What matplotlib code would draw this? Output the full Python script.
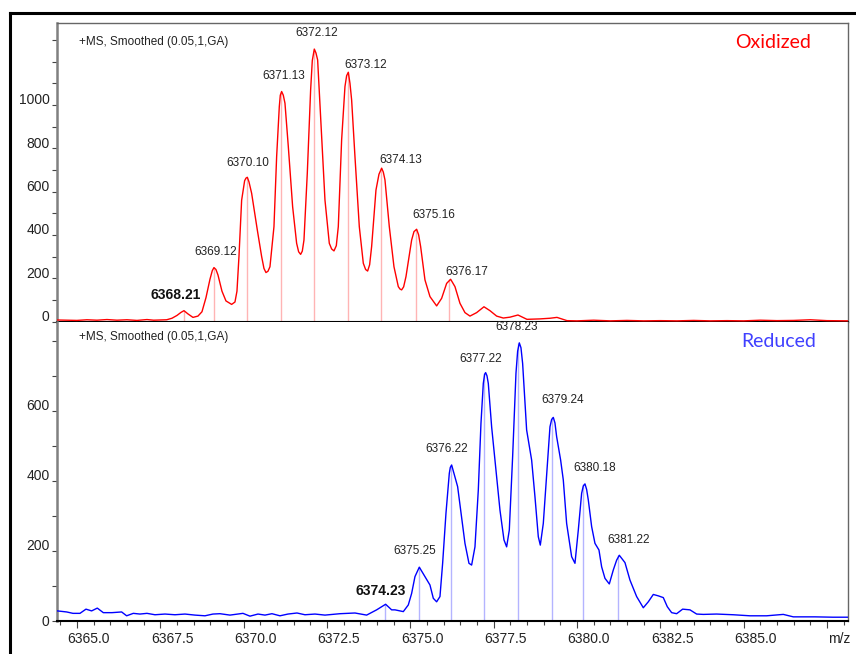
"""Mass spectra of oxidized vs reduced protein, stacked panels."""

import matplotlib.pyplot as plt
import matplotlib.transforms as mtransforms
from matplotlib.lines import Line2D
from matplotlib.ticker import FixedLocator

plt.rcParams['font.family'] = ['Liberation Sans', 'DejaVu Sans']

# ---- data ------------------------------------------------------------------
ox_mz = [6364.41, 6364.7, 6365.0, 6365.3, 6365.6, 6365.9, 6366.2, 6366.5,
         6366.8, 6367.1, 6367.3, 6367.5, 6367.69, 6367.85, 6368.00, 6368.12,
         6368.21, 6368.33, 6368.48, 6368.63, 6368.75, 6368.87, 6368.99,
         6369.06, 6369.11, 6369.17, 6369.23, 6369.35, 6369.47, 6369.64,
         6369.74, 6369.80, 6369.86, 6369.94, 6370.03, 6370.07, 6370.11,
         6370.16, 6370.24, 6370.41, 6370.54, 6370.61, 6370.67, 6370.73,
         6370.79, 6370.91, 6370.99, 6371.07, 6371.10, 6371.14, 6371.19,
         6371.24, 6371.34, 6371.47, 6371.59, 6371.65, 6371.71, 6371.76,
         6371.81, 6371.91, 6372.01, 6372.06, 6372.12, 6372.17, 6372.22,
         6372.32, 6372.44, 6372.57, 6372.64, 6372.71, 6372.78, 6372.84,
         6372.94, 6373.04, 6373.09, 6373.14, 6373.19, 6373.24, 6373.34,
         6373.47, 6373.59, 6373.66, 6373.72, 6373.78, 6373.84, 6373.97,
         6374.06, 6374.14, 6374.19, 6374.24, 6374.37, 6374.51, 6374.64,
         6374.69, 6374.74, 6374.80, 6374.87, 6375.04, 6375.11, 6375.19,
         6375.25, 6375.31, 6375.44, 6375.59, 6375.79, 6375.94, 6376.09,
         6376.21, 6376.34, 6376.49, 6376.64, 6376.79, 6376.99, 6377.21,
         6377.39, 6377.59, 6377.79, 6377.99, 6378.23, 6378.50, 6378.89,
         6379.19, 6379.40, 6379.70, 6380.0, 6380.5, 6381.0, 6381.5, 6382.0,
         6382.5, 6383.0, 6383.5, 6384.0, 6384.5, 6385.0, 6385.5, 6386.0,
         6386.5, 6387.0, 6387.5, 6388.14]
ox_int = [7, 6, 5, 8, 6, 9, 6, 8,
          5, 9, 6, 7, 8, 15, 28, 42,
          50, 35, 19, 25, 45, 110, 195,
          235, 249, 240, 215, 140, 95, 79,
          90, 140, 300, 560, 650, 662, 666,
          645, 592, 423, 300, 245, 226, 232,
          253, 438, 761, 992, 1045, 1062, 1045,
          1008, 808, 530, 361, 322, 310, 325,
          376, 685, 1070, 1205, 1258, 1240, 1208,
          916, 561, 361, 335, 326, 350, 438,
          839, 1085, 1135, 1151, 1100, 1023, 761,
          438, 269, 240, 233, 262, 346, 607,
          680, 708, 690, 654, 438, 253, 161,
          150, 146, 160, 207, 376, 415, 426,
          400, 346, 192, 115, 72, 107, 176,
          195, 161, 84, 41, 25, 41, 68,
          50, 25, 16, 20, 30, 10, 12,
          15, 19, 4, 3, 6, 3, 5, 3,
          4, 3, 5, 3, 4, 3, 6, 4,
          5, 8, 4, 3]

red_mz = [6364.41, 6364.69, 6364.88, 6365.09, 6365.27, 6365.44, 6365.61,
          6365.79, 6366.05, 6366.34, 6366.49, 6366.69, 6366.89, 6367.10,
          6367.34, 6367.64, 6367.94, 6368.24, 6368.54, 6368.84, 6369.08,
          6369.29, 6369.59, 6369.98, 6370.19, 6370.43, 6370.64, 6370.85,
          6371.09, 6371.33, 6371.60, 6371.84, 6372.14, 6372.44, 6372.89,
          6373.34, 6373.69, 6373.99, 6374.26, 6374.44, 6374.54, 6374.79,
          6374.94, 6375.04, 6375.14, 6375.27, 6375.44, 6375.59, 6375.69,
          6375.79, 6375.89, 6375.97, 6376.07, 6376.17, 6376.20, 6376.24,
          6376.34, 6376.42, 6376.51, 6376.64, 6376.76, 6376.84, 6376.94,
          6377.04, 6377.12, 6377.19, 6377.23, 6377.26, 6377.30, 6377.34,
          6377.44, 6377.57, 6377.69, 6377.81, 6377.89, 6377.97, 6378.07,
          6378.17, 6378.22, 6378.27, 6378.32, 6378.37, 6378.49, 6378.64,
          6378.74, 6378.84, 6378.90, 6378.99, 6379.10, 6379.19, 6379.24,
          6379.29, 6379.34, 6379.39, 6379.51, 6379.59, 6379.69, 6379.84,
          6379.94, 6380.04, 6380.14, 6380.19, 6380.24, 6380.29, 6380.34,
          6380.44, 6380.54, 6380.66, 6380.74, 6380.84, 6380.97, 6381.09,
          6381.19, 6381.27, 6381.44, 6381.59, 6381.79, 6381.99, 6382.14,
          6382.29, 6382.44, 6382.59, 6382.71, 6382.84, 6382.99, 6383.17,
          6383.39, 6383.59, 6383.79, 6384.19, 6384.69, 6385.19, 6385.69,
          6386.19, 6386.49, 6387.14, 6387.68, 6388.14]
red_int = [28, 25, 21, 21, 33, 28, 36,
           23, 23, 25, 14, 21, 19, 21,
           17, 19, 17, 19, 16, 14, 19,
           20, 16, 21, 13, 19, 16, 20,
           14, 19, 22, 17, 19, 16, 20,
           22, 16, 31, 47, 31, 31, 26,
           45, 78, 126, 153, 126, 102, 64,
           54, 69, 164, 307, 421, 438, 445,
           411, 383, 316, 221, 164, 159, 211,
           373, 564, 678, 704, 709, 700, 678,
           554, 431, 316, 231, 211, 259, 469,
           707, 770, 794, 780, 735, 545, 459,
           354, 240, 216, 278, 431, 554, 575,
           581, 565, 526, 459, 402, 278, 183,
           164, 259, 364, 385, 391, 375, 345,
           269, 221, 202, 154, 121, 105, 145,
           173, 187, 166, 116, 69, 37, 54,
           75, 71, 66, 40, 23, 20, 33,
           31, 19, 18, 19, 17, 14, 14,
           18, 11, 11, 10, 10]

ox_peak_mz = [6368.21, 6369.12, 6370.10, 6371.13, 6372.12, 6373.12, 6374.13,
              6375.16, 6376.17]
ox_peak_int = [50, 249, 666, 1062, 1258, 1151, 708, 426, 195]
red_peak_mz = [6374.23, 6375.25, 6376.22, 6377.22, 6378.23, 6379.24, 6380.18,
               6381.22]
red_peak_int = [47, 153, 445, 709, 794, 581, 391, 187]

x_ticks = [6365.0, 6367.5, 6370.0, 6372.5, 6375.0, 6377.5, 6380.0, 6382.5,
           6385.0, 6387.5]
x_tick_labels = ['6365.0', '6367.5', '6370.0', '6372.5', '6375.0', '6377.5',
                 '6380.0', '6382.5', '6385.0', 'm/z']

# label placement (pixel offsets from peak tip), first peak is bold
ox_lab_off = [(-8, 16), (1, 16), (1, 14), (2, 16), (2, 16), (18, 7), (19, 8),
              (18, 14), (18, 7)]
red_lab_off = [(-4, 13), (-4, 16), (-4, 16), (-4, 14), (-1, 16), (11, 17),
               (12, 16), (11, 15)]

W, H = 856, 654
fig = plt.figure(figsize=(W / 100, H / 100), dpi=100)

left, right = 57.3, 848.3
top_ax = fig.add_axes([left / W, 1 - 321.5 / H, (right - left) / W,
                       (321.5 - 23.3) / H])
bot_ax = fig.add_axes([left / W, 1 - 620.7 / H, (right - left) / W,
                       (620.7 - 321.5) / H])

PT = 0.72  # px -> pt at 100 dpi


def draw_panel(ax, mz, inten, pk_mz, pk_int, offs, line_c, stick_c):
    ax.plot(mz, inten, color=line_c, lw=1.0, zorder=3)
    ax.vlines(pk_mz, 0, pk_int, color=stick_c, lw=1.0, zorder=2)
    for i, (m, v) in enumerate(zip(pk_mz, pk_int)):
        dx, dy = offs[i]
        bold = i == 0
        ax.annotate(f"{m:.2f}", xy=(m, v), xytext=(dx * PT, dy * PT),
                    textcoords='offset points', ha='center', va='center',
                    fontsize=10 if bold else 8.5,
                    fontweight='bold' if bold else 'normal',
                    color='#111111' if bold else '#222222')
    ax.set_xlim(6364.41, 6388.14)
    for s in ('top', 'right'):
        ax.spines[s].set_color('#666666')
        ax.spines[s].set_linewidth(1.0)
    ax.spines['left'].set_color('#808080')
    ax.spines['left'].set_linewidth(1.8)
    ax.spines['bottom'].set_color('black')
    ax.spines['bottom'].set_linewidth(1.5)
    ax.tick_params(axis='y', which='both', length=3.5, width=0.8,
                   color='#444444', labelsize=10, labelcolor='#222222', pad=2)


draw_panel(top_ax, ox_mz, ox_int, ox_peak_mz, ox_peak_int, ox_lab_off,
           '#ff0000', '#ffb4b4')
draw_panel(bot_ax, red_mz, red_int, red_peak_mz, red_peak_int, red_lab_off,
           '#0000ff', '#b4b4ff')

top_ax.set_ylim(0, 1377)
top_ax.set_yticks([0, 200, 400, 600, 800, 1000])
top_ax.yaxis.set_minor_locator(FixedLocator([100, 300, 500, 700, 900, 1100,
                                             1200, 1300]))
top_ax.tick_params(axis='x', which='both', bottom=False, labelbottom=False)

bot_ax.set_ylim(0, 855)
bot_ax.set_yticks([0, 200, 400, 600])
bot_ax.yaxis.set_minor_locator(FixedLocator([100, 300, 500, 700, 800]))
bot_ax.spines['top'].set_visible(False)
bot_ax.set_xticks(x_ticks)
bot_ax.set_xticklabels(x_tick_labels)
bot_ax.xaxis.set_minor_locator(FixedLocator(
    [6364.5 + 0.5 * i for i in range(48) if (0.5 * i) % 2.5 != 0.5]))
bot_ax.tick_params(axis='x', which='major', length=5, width=0.8,
                   color='#444444', labelsize=10, labelcolor='#222222', pad=3)
bot_ax.tick_params(axis='x', which='minor', length=3, width=0.8,
                   color='#444444')

# the instrument software draws tick labels a little off their ticks
x_shift = mtransforms.ScaledTranslation(12 / 100, 0, fig.dpi_scale_trans)
for lab in bot_ax.get_xticklabels():
    lab.set_transform(lab.get_transform() + x_shift)
y_shift = mtransforms.ScaledTranslation(0, 6 / 100, fig.dpi_scale_trans)
for ax in (top_ax, bot_ax):
    for k, lab in enumerate(ax.get_yticklabels()):
        if ax is bot_ax and k == 0:
            continue
        lab.set_transform(lab.get_transform() + y_shift)

for ax, y in ((top_ax, 0.938), (bot_ax, 0.949)):
    ax.text(0.027, y, "+MS, Smoothed (0.05,1,GA)", transform=ax.transAxes,
            fontsize=8.5, color='#222222', va='center', ha='left')

top_ax.text(0.905, 0.934, "Oxidized", transform=top_ax.transAxes,
            fontsize=14, color='#ff0000', ha='center', va='center',
            family=['Lato', 'DejaVu Sans'])
bot_ax.text(0.912, 0.933, "Reduced", transform=bot_ax.transAxes,
            fontsize=14, color='#4040ff', ha='center', va='center',
            family=['Lato', 'DejaVu Sans'])

# outer frame of the original screenshot
fig.add_artist(Line2D([10 / W, 10 / W], [0, 1 - 13 / H], color='black',
                      lw=2.2, transform=fig.transFigure))
fig.add_artist(Line2D([10 / W, 1], [1 - 13 / H, 1 - 13 / H], color='black',
                      lw=2.2, transform=fig.transFigure))

fig.savefig("out.png", dpi=100)
